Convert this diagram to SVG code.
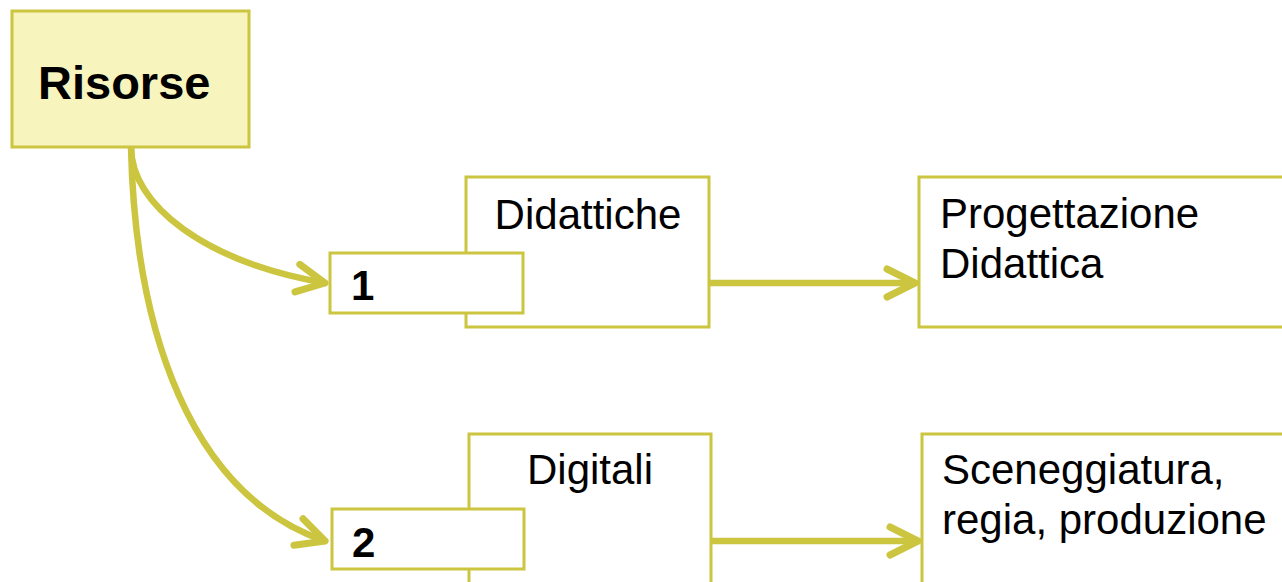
<svg xmlns="http://www.w3.org/2000/svg" width="1282" height="582" viewBox="0 0 1282 582">
<style>
.box{fill:#FFFFFF;stroke:#CBC540;stroke-width:3}
.root{fill:#F7F4BE;stroke:#CBC540;stroke-width:3}
.t{font-family:"Liberation Sans",Arial,sans-serif;font-size:42px;fill:#000}
.b{font-weight:bold}
.c{fill:none;stroke:#CBC540;stroke-width:6.5;stroke-linecap:round}
</style>
<defs>
<marker id="chev" markerUnits="userSpaceOnUse" markerWidth="44" markerHeight="44" viewBox="-36 -22 44 44" refX="0" refY="0" orient="auto">
<path d="M-28,-14 L0,0 L-28,14" fill="none" stroke="#CBC540" stroke-width="7" stroke-linecap="round" stroke-linejoin="round"/>
</marker>
</defs>
<rect width="1282" height="582" fill="#FFFFFF"/>
<g id="connectors">
<path class="c" d="M131,147 C131,205 205,262 325,283" marker-end="url(#chev)"/>
<path class="c" d="M131,147 C135,330 190,495 325,541" marker-end="url(#chev)"/>
<path class="c" d="M709,283 L915,283" marker-end="url(#chev)"/>
<path class="c" d="M711,541 L918,541" marker-end="url(#chev)"/>
</g>
<g id="risorse">
<rect class="root" x="12" y="11" width="237" height="136"/>
<text class="t b" x="38" y="99" style="font-size:47px">Risorse</text>
</g>
<g id="didattiche">
<rect class="box" x="466" y="177" width="243" height="150"/>
<text class="t" x="588" y="229" text-anchor="middle">Didattiche</text>
</g>
<g id="n1">
<rect class="box" x="330" y="253" width="193" height="60"/>
<text class="t b" x="351" y="300">1</text>
</g>
<g id="progettazione">
<rect class="box" x="919" y="177" width="380" height="150"/>
<text class="t" x="940" y="228">Progettazione</text>
<text class="t" x="940" y="278">Didattica</text>
</g>
<g id="digitali">
<rect class="box" x="469" y="434" width="242" height="170"/>
<text class="t" x="590" y="484" text-anchor="middle">Digitali</text>
</g>
<g id="n2">
<rect class="box" x="332" y="509" width="192" height="60"/>
<text class="t b" x="352" y="557">2</text>
</g>
<g id="sceneggiatura">
<rect class="box" x="922" y="434" width="380" height="170"/>
<text class="t" x="942" y="484">Sceneggiatura,</text>
<text class="t" x="942" y="534">regia, produzione</text>
</g>
</svg>
